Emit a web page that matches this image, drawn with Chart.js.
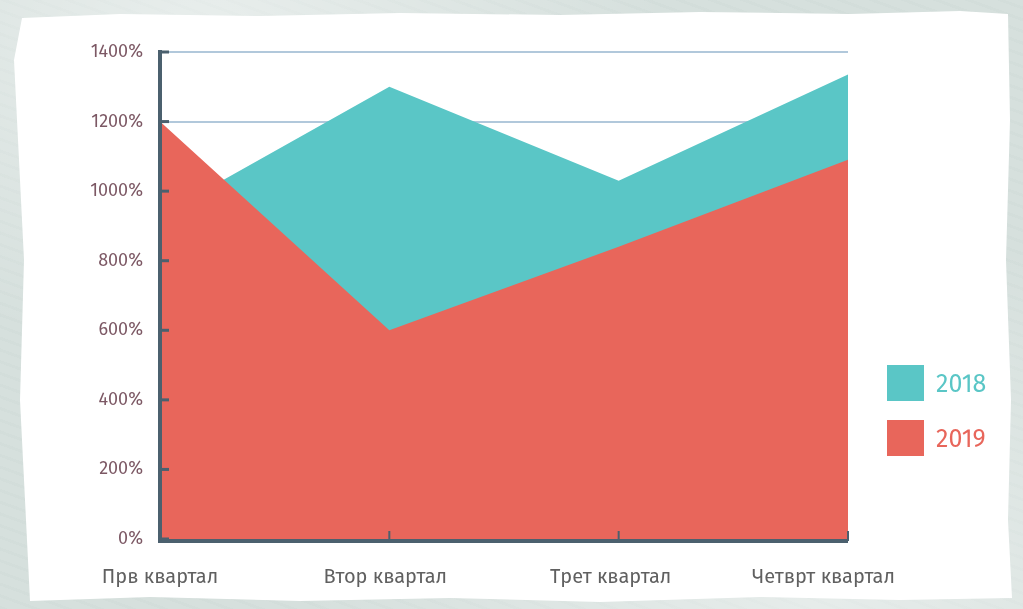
<!DOCTYPE html>
<html>
<head>
<meta charset="utf-8">
<script src="https://cdn.jsdelivr.net/npm/chart.js@4.4.0/dist/chart.umd.min.js"></script>
<style>
  html, body { margin: 0; padding: 0; }
  body {
    width: 1023px; height: 609px; overflow: hidden; position: relative;
    background: #d6e0dd;
    background-image:
      radial-gradient(ellipse at 20% 5%, rgba(255,255,255,0.45), transparent 40%),
      radial-gradient(ellipse at 80% 98%, rgba(255,255,255,0.4), transparent 45%),
      repeating-linear-gradient(20deg, rgba(160,180,175,0.06) 0 3px, transparent 3px 11px);
  }
  #paper {
    position: absolute; left: 0; top: 0; width: 1023px; height: 609px; background: #fff;
    clip-path: polygon(22px 18px, 120px 14px, 260px 16px, 400px 13px, 560px 15px, 700px 12px,
      850px 14px, 960px 11px, 1008px 14px, 1010px 120px, 1006px 260px, 1011px 400px,
      1008px 520px, 1012px 598px, 900px 600px, 760px 597px, 600px 602px, 450px 598px,
      300px 601px, 150px 597px, 30px 601px, 26px 520px, 20px 400px, 24px 260px,
      18px 140px, 14px 60px);
  }
  #wrap { position: absolute; left: 0; top: 0; width: 1023px; height: 609px; }
  .leg { position: absolute; left: 887px; width: 37px; height: 36px; }
  .legt { position: absolute; left: 936px; font-family: "Fira Sans", "Open Sans", sans-serif; font-size: 25px; line-height: 36px; }
</style>
</head>
<body>
<div id="paper"></div>
<div id="wrap"><canvas id="areaChart" width="1023" height="609"></canvas></div>
<div class="leg" style="top:365px;background:#5ac6c6"></div>
<div class="legt" style="top:366px;color:#5ac6c6">2018</div>
<div class="leg" style="top:420px;background:#e8665b"></div>
<div class="legt" style="top:421px;color:#e8665b">2019</div>
<script>
// Area chart - two years by quarter
const quarters = ["Прв квартал", "Втор квартал", "Трет квартал", "Четврт квартал"]
const values2018 = [930, 1300, 1030, 1335]
const values2019 = [1200, 600, 840, 1090]
const yTicks = [0, 200, 400, 600, 800, 1000, 1200, 1400]

const axisColor = "#4b606e"

// axes with inner ticks + quarter labels
const axesPlugin = {
  id: "axesPlugin",
  afterDraw(chart) {
    const c = chart.ctx
    const area = chart.chartArea
    const x = chart.scales.x
    const y = chart.scales.y
    c.save()
    c.strokeStyle = axisColor
    c.lineWidth = 4
    c.beginPath()
    c.moveTo(area.left, area.top - 2)
    c.lineTo(area.left, area.bottom + 2)
    c.lineTo(area.right, area.bottom + 2)
    c.stroke()
    c.lineWidth = 3
    yTicks.forEach((v) => {
      const py = y.getPixelForValue(v)
      c.beginPath()
      c.moveTo(area.left, py)
      c.lineTo(area.left + 9, py)
      c.stroke()
    })
    c.lineWidth = 2
    quarters.forEach((q, i) => {
      if (i === 0) return
      const px = x.getPixelForValue(i)
      c.beginPath()
      c.moveTo(px, area.bottom + 2)
      c.lineTo(px, area.bottom - 8)
      c.stroke()
    })
    c.font = "20px 'Fira Sans', 'Open Sans', sans-serif"
    c.fillStyle = "#606060"
    c.textBaseline = "middle"
    c.textAlign = "center"
    quarters.forEach((q, i) => {
      let px = x.getPixelForValue(i) - i * 4
      const w = c.measureText(q).width
      if (px + w / 2 > 895) px = 895 - w / 2
      c.fillText(q, px, 577)
    })
    c.restore()
  },
}

new Chart(document.getElementById("areaChart"), {
  type: "line",
  data: {
    labels: quarters,
    datasets: [
      {
        label: "2019",
        data: values2019,
        backgroundColor: "#e8665b",
        borderWidth: 0,
        pointRadius: 0,
        tension: 0,
        fill: "origin",
        order: 0,
      },
      {
        label: "2018",
        data: values2018,
        backgroundColor: "#5ac6c6",
        borderWidth: 0,
        pointRadius: 0,
        tension: 0,
        fill: "origin",
        order: 1,
      },
    ],
  },
  options: {
    responsive: false,
    animation: false,
    layout: { padding: { top: 52, right: 175, bottom: 70, left: 0 } },
    plugins: {
      legend: { display: false },
      tooltip: { enabled: false },
    },
    scales: {
      x: { display: false, offset: false },
      y: {
        min: 0,
        max: 1400,
        z: 1,
        afterFit: (scale) => { scale.width = 160 },
        border: { display: false },
        grid: { color: "rgba(50,110,160,0.38)", lineWidth: 2, drawTicks: false },
        ticks: {
          stepSize: 200,
          padding: 17,
          color: "#7c5864",
          font: { family: "'Fira Sans', 'Open Sans', sans-serif", size: 18 },
          callback: (value) => value + "%",
        },
      },
    },
  },
  plugins: [axesPlugin],
})
</script>
</body>
</html>
